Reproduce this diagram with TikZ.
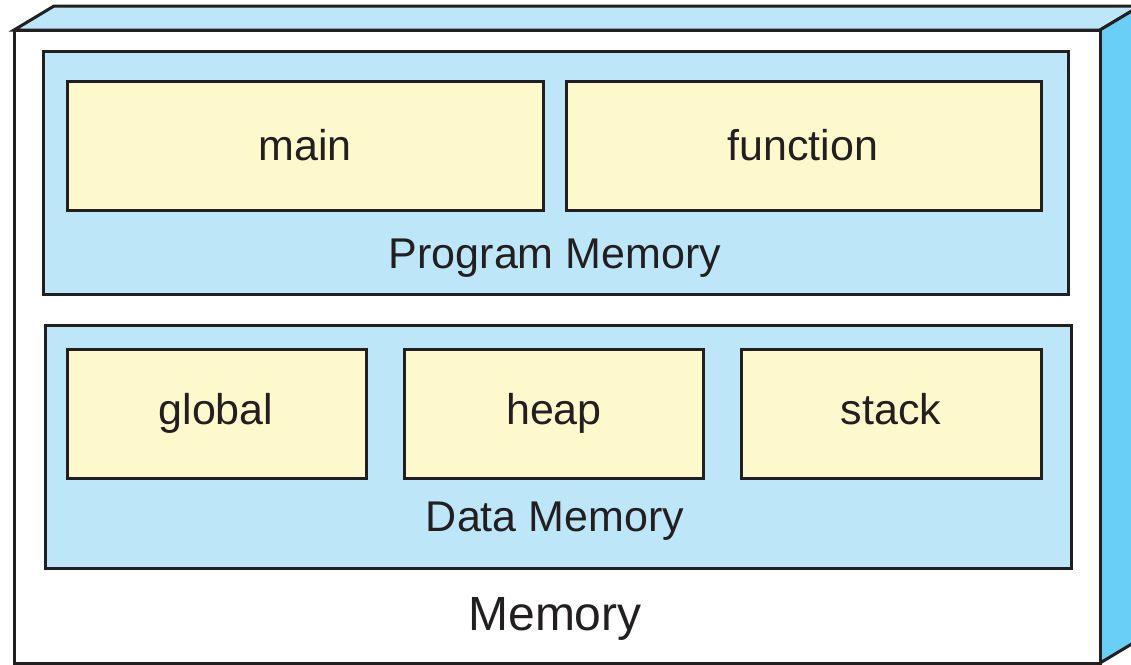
\documentclass[tikz,border=0pt]{standalone}
\usepackage{fontspec}
\setmainfont{Liberation Sans}
\definecolor{lblue}{HTML}{BDE6F9}
\definecolor{sblue}{HTML}{6ACFF6}
\definecolor{lyel}{HTML}{FEF9CC}
\definecolor{ink}{HTML}{231F20}
\begin{document}
\begin{tikzpicture}[x=1pt,y=-1pt,
  edge/.style={draw=ink,line width=3pt,line join=miter},
  panel/.style={edge,fill=lblue},
  cell/.style={edge,fill=lyel},
  lbl/.style={font=\fontsize{43}{50}\selectfont,text=ink,inner sep=0pt,anchor=base}]
\useasboundingbox (0,0) rectangle (1131,664);
\clip (0,0) rectangle (1131,664);
% 3D box
\coordinate (ftl) at (14,30);
\coordinate (ftr) at (1100,30);
\coordinate (fbr) at (1100,663);
\coordinate (fbl) at (14,663);
\coordinate (btl) at (54,6);
\coordinate (btr) at (1140,6);
\coordinate (bbr) at (1140,639);
\path[edge,fill=lblue] (ftl) -- (btl) -- (btr) -- (ftr) -- cycle;
\path[edge,fill=sblue] (ftr) -- (btr) -- (bbr) -- (fbr) -- cycle;
\path[edge,fill=white] (ftl) rectangle (fbr);
% Program memory
\path[panel] (43,51) rectangle (1068,294);
\path[cell] (67,81) rectangle (543,210);
\path[cell] (566,81) rectangle (1041,210);
\node[lbl] (main) at (305,160) {main};
\node[lbl] (func) at (803,160) {function};
\node[lbl] (pm) at (555,268) {Program Memory};
% Data memory
\path[panel] (45,325) rectangle (1071,568);
\path[cell] (67,349) rectangle (366,478);
\path[cell] (404,349) rectangle (703,478);
\path[cell] (741,349) rectangle (1041,478);
\node[lbl] (glob) at (216,424) {global};
\node[lbl] (heap) at (554,424) {heap};
\node[lbl] (stack) at (891,424) {stack};
\node[lbl] (dm) at (555,531) {Data Memory};
\node[lbl,font=\fontsize{48}{56}\selectfont] (mem) at (555,630) {Memory};
\end{tikzpicture}
\end{document}
